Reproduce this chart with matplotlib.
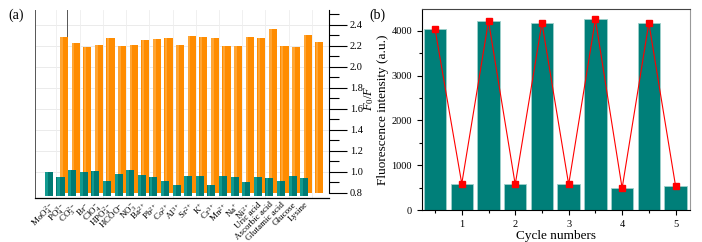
import numpy as np
import matplotlib
matplotlib.use('Agg')
import matplotlib.pyplot as plt
from matplotlib.ticker import MultipleLocator

plt.rcParams['font.family'] = ['Liberation Serif', 'DejaVu Serif']
plt.rcParams['mathtext.fontset'] = 'custom'
plt.rcParams['mathtext.rm'] = 'Liberation Serif'
plt.rcParams['mathtext.it'] = 'Liberation Serif:italic'

# (a) 选择性数据
ions = ['MoO$_4^{2-}$', 'PO$_4^{3-}$', 'CO$_3^{2-}$', 'Br$^{-}$', 'ClO$_4^{-}$',
        'HPO$_4^{2-}$', 'HCOO$^{-}$', 'NO$_3^{-}$', 'Ba$^{2+}$', 'Pb$^{2+}$',
        'Co$^{2+}$', 'Al$^{3+}$', 'Sr$^{2+}$', 'K$^{+}$', 'Cr$^{3+}$', 'Mn$^{2+}$',
        'Na$^{+}$', 'Ni$^{2+}$', 'Uric acid', 'Ascorbic acid', 'Glutamic acid',
        'Glucose', 'Lysine']
alone = [1.00, 0.95, 1.02, 1.00, 1.01, 0.91, 0.98, 1.02, 0.97, 0.95, 0.91, 0.87,
         0.96, 0.96, 0.87, 0.96, 0.95, 0.90, 0.95, 0.94, 0.91, 0.96, 0.94]
mixed = [2.28, 2.23, 2.19, 2.21, 2.27, 2.20, 2.21, 2.25, 2.26, 2.27, 2.21, 2.29,
         2.28, 2.27, 2.20, 2.20, 2.28, 2.27, 2.36, 2.20, 2.19, 2.30, 2.24]

# (b) 循环数据
cycle_x = [0.5, 1, 1.5, 2, 2.5, 3, 3.5, 4, 4.5, 5]
intensity = [4035, 588, 4220, 570, 4180, 570, 4258, 486, 4176, 536]

fig = plt.figure(figsize=(7.02, 2.42), dpi=100)

# ---------- (a) ----------
ax1 = fig.add_axes([0.0499, 0.1818, 0.4188, 0.7769])
x = np.arange(len(ions))
base = 0.77
back = 0.8
w = 0.7
shift = 1.3

ax1.bar(x + shift, np.array(mixed) - back, bottom=back, width=w, color='#ff8c00', zorder=2)
ax1.bar(x + shift - w * 0.3, np.array(mixed) - back, bottom=back, width=w * 0.3,
        color='#ffa533', zorder=2)
ax1.bar(x, np.array(alone) - base, bottom=base, width=w, color='#007a73', zorder=3)
ax1.bar(x - w * 0.3, np.array(alone) - base, bottom=base, width=w * 0.35,
        color='#129a90', zorder=3)

ax1.set_xlim(-1.2, 24.14)
ax1.set_ylim(0.75, 2.54)
ax1.axvline(1.55, ymin=0.3, color='#555555', lw=0.7, zorder=1)

for yv in np.arange(1.0, 2.5, 0.2):
    ax1.axhline(yv, color='#e8e8e8', lw=0.6, zorder=0)
for xv in np.arange(0, 24, 2):
    ax1.axvline(xv + 0.65, color='#eeeeee', lw=0.6, zorder=0)

ax1.yaxis.tick_right()
ax1.yaxis.set_minor_locator(MultipleLocator(0.1))
ax1.set_yticks(np.arange(0.8, 2.41, 0.2))
ax1.tick_params(axis='y', which='major', direction='out', length=13, width=0.8,
                labelsize=7.5, pad=2)
ax1.tick_params(axis='y', which='minor', direction='out', length=7, width=0.8)
ax1.spines['right'].set_bounds(0.8, 2.54)
ax1.spines['top'].set_visible(False)
ax1.spines['left'].set_color('#555555')
ax1.spines['left'].set_linewidth(0.7)
ax1.spines['bottom'].set_linewidth(0.9)

ax1.set_xticks(x)
ax1.set_xticklabels(ions, rotation=45, ha='right', va='top', rotation_mode='anchor',
                    fontsize=6.5)
ax1.tick_params(axis='x', length=0, pad=2)

fig.text(8 / 702, 1 - 15 / 242, '(a)', fontsize=10, va='center')
fig.text(369 / 702, 1 - 98 / 242, r'$\mathit{F}_0/\mathit{F}$', fontsize=9,
         rotation=90, ha='center', va='center')

# ---------- (b) ----------
ax2 = fig.add_axes([0.6007, 0.1322, 0.3822, 0.8294])
ax2.bar(cycle_x, intensity, width=0.42, color='#007f79', edgecolor='#9fd0cb',
        linewidth=0.6, zorder=2)
ax2.plot(cycle_x, intensity, color='red', lw=0.8, marker='s', markersize=4, zorder=3)

ax2.set_xlim(0.25, 5.27)
ax2.set_ylim(0, 4480)
ax2.set_xticks([1, 2, 3, 4, 5])
ax2.xaxis.set_minor_locator(MultipleLocator(0.5))
ax2.yaxis.set_major_locator(MultipleLocator(1000))
ax2.yaxis.set_minor_locator(MultipleLocator(500))
ax2.tick_params(which='major', direction='out', length=3.5, width=0.8, labelsize=7.5)
ax2.tick_params(which='minor', direction='out', length=2, width=0.8)
ax2.spines['right'].set_color('#999999')
ax2.spines['top'].set_color('#444444')
ax2.set_xlabel('Cycle numbers', fontsize=9.5, labelpad=1)
ax2.set_ylabel('Fluorescence intensity (a.u.)', fontsize=9.5, labelpad=2)

fig.text(377 / 702, 1 - 15 / 242, '(b)', fontsize=10, ha='center', va='center')

fig.savefig('out.png', dpi=100)
